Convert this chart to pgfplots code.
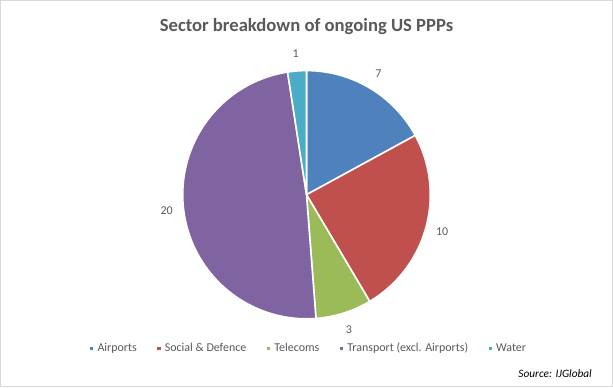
\documentclass[border=0pt]{standalone}
\usepackage{pgfplots}
\pgfplotsset{compat=1.18}
\usepackage{fontspec}
\setmainfont{Carlito}
\definecolor{cA}{HTML}{4F81BD}
\definecolor{cB}{HTML}{C0504D}
\definecolor{cC}{HTML}{9BBB59}
\definecolor{cD}{HTML}{8064A2}
\definecolor{cE}{HTML}{4BACC6}
\definecolor{txt}{HTML}{595959}
\begin{document}
\begin{tikzpicture}
% values
\def\vA{7}\def\vB{10}\def\vC{3}\def\vD{20}\def\vE{1}
\pgfmathsetmacro\tot{\vA+\vB+\vC+\vD+\vE}
\pgfmathsetmacro\aA{90}
\pgfmathsetmacro\aB{\aA-\vA/\tot*360}
\pgfmathsetmacro\aC{\aB-\vB/\tot*360}
\pgfmathsetmacro\aD{\aC-\vC/\tot*360}
\pgfmathsetmacro\aE{\aD-\vD/\tot*360}
\pgfmathsetmacro\aF{\aE-\vE/\tot*360}
\def\cx{306.5}\def\cy{192}\def\R{124}\def\L{141}
\begin{axis}[
  scale only axis, width=459.75pt, height=289.5pt,
  xmin=0, xmax=613, ymin=0, ymax=386,
  hide axis, clip=false,
  legend columns=5,
  legend style={draw=none, fill=none, at={(axis cs:308.5,38.3)}, anchor=center,
    font=\fontsize{9}{10}\selectfont, text=txt,
    /tikz/every even column/.append style={column sep=12pt}},
  legend image code/.code={\fill (0pt,-1.9pt) rectangle (3.8pt,1.9pt);},
]
\draw[black!15, line width=0.8pt] (rel axis cs:0,0) rectangle (rel axis cs:1,1);
\addplot[fill=cA, draw=white, line width=1.2pt, domain=\aB:\aA, samples=60, variable=\t]
  ({\cx+\R*cos(\t)},{\cy+\R*sin(\t)}) -- (axis cs:\cx,\cy) -- cycle;
\addlegendentry{Airports}
\addplot[fill=cB, draw=white, line width=1.2pt, domain=\aC:\aB, samples=60, variable=\t]
  ({\cx+\R*cos(\t)},{\cy+\R*sin(\t)}) -- (axis cs:\cx,\cy) -- cycle;
\addlegendentry{Social \& Defence}
\addplot[fill=cC, draw=white, line width=1.2pt, domain=\aD:\aC, samples=60, variable=\t]
  ({\cx+\R*cos(\t)},{\cy+\R*sin(\t)}) -- (axis cs:\cx,\cy) -- cycle;
\addlegendentry{Telecoms}
\addplot[fill=cD, draw=white, line width=1.2pt, domain=\aE:\aD, samples=90, variable=\t]
  ({\cx+\R*cos(\t)},{\cy+\R*sin(\t)}) -- (axis cs:\cx,\cy) -- cycle;
\addlegendentry{Transport (excl. Airports)}
\addplot[fill=cE, draw=white, line width=1.2pt, domain=\aF:\aE, samples=20, variable=\t]
  ({\cx+\R*cos(\t)},{\cy+\R*sin(\t)}) -- (axis cs:\cx,\cy) -- cycle;
\addlegendentry{Water}
% data labels
\pgfmathsetmacro\mA{(\aA+\aB)/2}
\pgfmathsetmacro\mB{(\aB+\aC)/2}
\pgfmathsetmacro\mC{(\aC+\aD)/2}
\pgfmathsetmacro\mD{(\aD+\aE)/2}
\pgfmathsetmacro\mE{(\aE+\aF)/2}
\begin{scope}[every node/.style={font=\fontsize{9}{10}\selectfont, text=txt}]
\node at (axis cs:{\cx+\L*cos(\mA)},{\cy+\L*sin(\mA)}) {\vA};
\node at (axis cs:{\cx+\L*cos(\mB)},{\cy+\L*sin(\mB)}) {\vB};
\node at (axis cs:{\cx+\L*cos(\mC)},{\cy+\L*sin(\mC)}) {\vC};
\node at (axis cs:{\cx+\L*cos(\mD)},{\cy+\L*sin(\mD)}) {\vD};
\node at (axis cs:{\cx+\L*cos(\mE)},{\cy+\L*sin(\mE)}) {\vE};
\end{scope}
\node[font=\bfseries\fontsize{14}{16}\selectfont, text=txt] at (axis cs:306.5,360) {Sector breakdown of ongoing US PPPs};
\node[font=\itshape\fontsize{8.5}{10}\selectfont, text=black, anchor=east] at (axis cs:597,13.6) {Source: IJGlobal};
\end{axis}
\end{tikzpicture}
\end{document}
